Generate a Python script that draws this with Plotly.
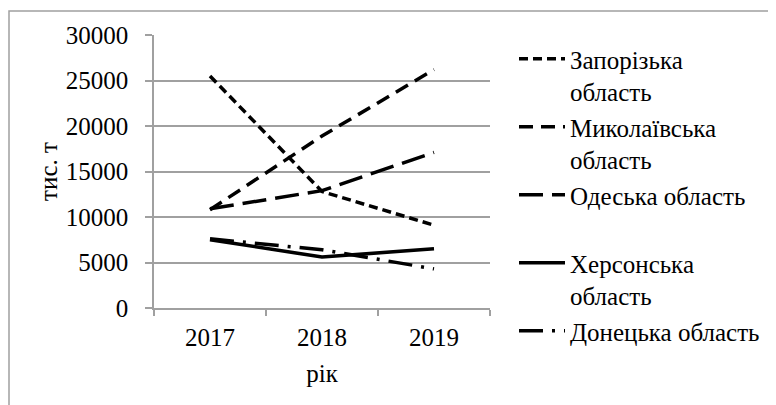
import plotly.graph_objects as go

years = ["2017", "2018", "2019"]
zaporizka = [25500, 12800, 9100]
mykolaivska = [10800, 18900, 26200]
odeska = [10900, 12900, 17100]
khersonska = [7500, 5600, 6500]
donetska = [7600, 6400, 4300]

names = ["Запорізька<br>область", "Миколаївська<br>область", "Одеська область<br> ",
         "Херсонська<br>область", "Донецька область"]
series = [zaporizka, mykolaivska, odeska, khersonska, donetska]
dashes = ["9px,5px", "14px,8px", "24px,9px", "solid", "24px,9px,3px,9px"]

FONT = "Liberation Serif"
GRAY = "#a0a0a0"
FS = 25

fig = go.Figure()
for name, vals, dash in zip(names, series, dashes):
    fig.add_trace(go.Scatter(x=years, y=vals, name=name, mode="lines",
                             line=dict(color="black", width=3.5, dash=dash)))

# page body has an 8px margin, so figure pixel coords = screen - 8
W, H = 768, 397
L, R, T, B = 146, 482, 27, 300
pw, ph = R - L, B - T

def px_x(p):
    return (p - L) / pw

def px_y(p):
    return (B - p) / ph

txt = dict(family=FONT, size=FS, color="black")

fig.update_layout(
    width=W, height=H,
    margin=dict(l=L, r=W - R, t=T, b=H - B, pad=0, autoexpand=False),
    paper_bgcolor="white", plot_bgcolor="white",
    font=txt,
    showlegend=True,
    legend=dict(x=px_x(506), xanchor="left", y=px_y(28), yanchor="top",
                valign="top", font=txt,
                bgcolor="rgba(0,0,0,0)", tracegroupgap=0, itemwidth=46,
                maxheight=400),
    shapes=[dict(type="rect", xref="paper", yref="paper",
                 x0=px_x(1), x1=px_x(800), y0=px_y(430), y1=px_y(3),
                 line=dict(color=GRAY, width=1.5), layer="below")],
)
fig.update_xaxes(type="category", categoryorder="array", categoryarray=years,
                 range=[-0.5, 2.5], showline=True, linecolor=GRAY, linewidth=1.5,
                 ticks="outside", tickson="boundaries", ticklen=6, tickcolor=GRAY,
                 tickwidth=1.5, showgrid=False, zeroline=False, automargin=False,
                 tickfont=txt, ticklabelstandoff=6,
                 title=dict(text="рік", standoff=15, font=txt))
fig.update_yaxes(range=[0, 30000], dtick=5000, showline=True, linecolor=GRAY,
                 linewidth=1.5, ticks="outside", ticklen=7, tickcolor=GRAY,
                 tickwidth=1.5, showgrid=True, gridcolor=GRAY, gridwidth=1.5,
                 zeroline=False, tickformat="d", ticklabelstandoff=12,
                 automargin=False, tickfont=txt,
                 title=dict(text="тис. т", standoff=1, font=txt))

fig.write_html("out.html")
